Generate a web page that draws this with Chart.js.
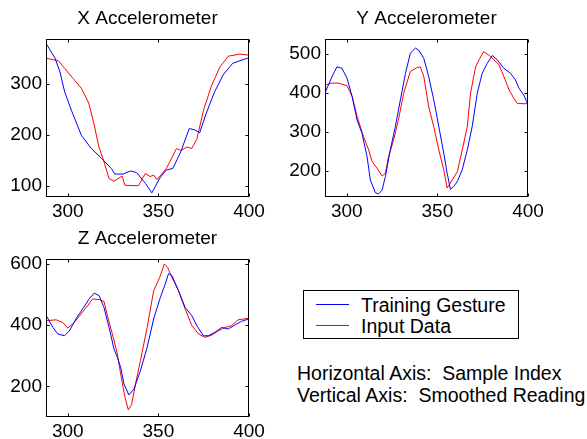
<!DOCTYPE html>
<html>
<head>
<meta charset="utf-8">
<script src="https://cdn.jsdelivr.net/npm/chart.js"></script>
<style>
  body { margin: 0; background: #fff; width: 587px; height: 439px; overflow: hidden; position: relative;
         font-family: "Liberation Sans", Arial, sans-serif; color: #000; }
  canvas { position: absolute; }
  .legend { position: absolute; left: 303px; top: 290px; width: 214px; height: 47px; border: 1px solid #000; }
  .legend .ln { position: absolute; left: 12px; width: 33px; height: 1px; }
  .legend .tx { position: absolute; left: 57px; font-size: 19.5px; line-height: 22px; white-space: pre; }
  .note { position: absolute; left: 297px; font-size: 19.5px; line-height: 22px; white-space: pre; }
</style>
</head>
<body>
<canvas id="accX" width="269" height="225" style="left:0;top:0"></canvas>
<canvas id="accY" width="278" height="225" style="left:270px;top:0"></canvas>
<canvas id="accZ" width="269" height="225" style="left:0;top:220px"></canvas>

<div class="legend">
  <div class="ln" style="top:13px;background:#0000ff"></div>
  <div class="tx" style="top:3px">Training Gesture</div>
  <div class="ln" style="top:34px;background:#ff0000"></div>
  <div class="tx" style="top:24px">Input Data</div>
</div>
<div class="note" style="top:362px">Horizontal Axis:  Sample Index</div>
<div class="note" style="top:384px">Vertical Axis:  Smoothed Reading</div>

<script>
// sample index range shown on every plot
const idxMin = 288
const idxMax = 400
const idxTicks = [300, 350, 400]

// X accelerometer
const xTrainIdx = [288, 293, 295.7, 298.3, 302, 307.5, 313, 318.6, 324, 326, 330.6, 334.5, 338, 342.8, 346.4, 350.8, 354.4, 358, 362.4, 367, 369.7, 372.8, 376.4, 381, 385.7, 391, 395, 400]
const xTrainVal = [379, 350, 323, 284, 248, 199, 173, 154, 134, 123, 123, 129, 126, 105, 86, 115, 131, 134, 167, 212, 210, 204, 242, 284, 317, 340, 345, 351]
const xInputIdx = [288, 294.8, 298.3, 303, 307.5, 311.6, 314.4, 317.2, 320, 322.8, 325.5, 330, 331.5, 339, 342.8, 345.5, 347.4, 349.2, 354.4, 360, 362.4, 365.7, 368.4, 371.2, 374.9, 379.4, 384, 388.6, 395, 400]
const xInputVal = [350, 345, 330, 310, 291, 262, 222, 176, 147, 114, 109, 119, 101, 100, 124, 118, 121, 112, 134, 173, 169, 176, 173, 191, 248, 297, 333, 354, 358, 356]
const xTicks = [100, 200, 300]

// Y accelerometer
const yTrainIdx = [288, 291.9, 294.6, 297.4, 300.2, 303, 305.7, 308.4, 311.2, 313, 315.8, 317.6, 319.5, 321.3, 324, 326.8, 329.6, 332.4, 335.1, 337.9, 339.7, 342.5, 345.2, 348, 350.8, 353.5, 355.4, 357.2, 359, 361, 363.7, 366.5, 369.2, 372, 374.7, 377.5, 380.3, 383, 386.7, 390.4, 393.1, 395, 397.7, 400]
const yTrainVal = [400, 442, 467, 463, 437, 390, 330, 296, 236, 176, 143, 140, 150, 184, 253, 313, 382, 450, 502, 515, 510, 489, 442, 382, 313, 245, 193, 152, 159, 172, 202, 253, 313, 399, 450, 476, 496, 485, 463, 450, 433, 412, 394, 369]
const yInputIdx = [288, 291.9, 295.5, 300.2, 303, 305.7, 309.3, 312.1, 314, 316.7, 319.5, 321.3, 323.1, 325.9, 328.7, 331.4, 335.1, 338.8, 340.6, 342.5, 345.2, 348, 350.8, 353.5, 355.4, 358.2, 361, 363.7, 366.5, 368.3, 371.1, 373, 375.6, 378.4, 381.2, 384, 386.7, 389.5, 392.2, 394, 397.7, 400]
const yInputVal = [420, 425, 425, 418, 390, 339, 287, 253, 223, 206, 186, 193, 236, 279, 335, 399, 455, 465, 467, 442, 364, 313, 253, 202, 155, 176, 197, 253, 313, 399, 467, 485, 506, 497, 485, 472, 442, 408, 386, 373, 372, 372]
const yTicks = [200, 300, 400, 500]

// Z accelerometer
const zTrainIdx = [288, 291.8, 294.5, 298.1, 300.9, 304.5, 308.2, 311.8, 314.6, 317.3, 320, 322.8, 325.5, 327.4, 329.2, 331, 333.7, 336.5, 340.1, 343.8, 347.4, 351.1, 353.8, 355.6, 357.5, 361.1, 364.8, 368.5, 371.2, 374.8, 377.5, 381.2, 384.9, 388.5, 392.2, 395.8, 400]
const zTrainVal = [432, 392, 371, 365, 381, 420, 452, 485, 504, 496, 457, 392, 322, 294, 262, 208, 172, 191, 251, 327, 420, 490, 534, 568, 561, 512, 457, 430, 398, 365, 365, 376, 392, 387, 400, 412, 420]
const zInputIdx = [288, 293.6, 297.3, 300, 303.6, 307.3, 311, 313.7, 317.3, 320, 321.9, 324.6, 327.4, 329.2, 331.4, 333.4, 335.2, 337.4, 340.1, 343.8, 347.4, 350.7, 353.3, 355.1, 357.5, 361.1, 364.8, 368.5, 372.1, 375.7, 379.4, 383, 386.7, 390.4, 394, 400]
const zInputVal = [414, 417, 408, 390, 408, 436, 463, 485, 483, 477, 430, 371, 305, 240, 169, 123, 140, 208, 284, 392, 512, 555, 599, 588, 555, 512, 452, 398, 371, 360, 367, 381, 392, 398, 417, 422]
const zTicks = [200, 400, 600]

Chart.defaults.font.family = '"Liberation Sans", Arial, sans-serif'
Chart.defaults.font.size = 19
Chart.defaults.color = '#000'

const toPoints = (idx, val) => idx.map((x, i) => ({ x: x, y: val[i] }))

// matlab style box with ticks pointing inward on all four sides
const boxTicks = {
    id: 'boxTicks',
    afterDraw(chart) {
        const { ctx, chartArea: a, scales: { x, y } } = chart
        const l = Math.round(a.left) + 0.5, r = Math.round(a.right) - 0.5
        const t = Math.round(a.top) + 0.5, b = Math.round(a.bottom) - 0.5
        const len = 3
        ctx.save()
        ctx.strokeStyle = '#000'
        ctx.lineWidth = 1
        ctx.strokeRect(l, t, r - l, b - t)
        ctx.beginPath()
        x.ticks.forEach(tk => {
            const px = Math.round(x.getPixelForValue(tk.value)) + 0.5
            ctx.moveTo(px, b); ctx.lineTo(px, b - len)
            ctx.moveTo(px, t); ctx.lineTo(px, t + len)
        })
        y.ticks.forEach(tk => {
            const py = Math.round(y.getPixelForValue(tk.value)) + 0.5
            ctx.moveTo(l, py); ctx.lineTo(l + len, py)
            ctx.moveTo(r, py); ctx.lineTo(r - len, py)
        })
        ctx.stroke()
        ctx.restore()
    }
}

const makePlot = (id, title, trainIdx, trainVal, inputIdx, inputVal, yMin, yMax, ticks, axisW) => {
    return new Chart(document.getElementById(id), {
        type: 'line',
        data: {
            datasets: [{
                label: 'Training Gesture',
                data: toPoints(trainIdx, trainVal),
                borderColor: '#0000ff',
                borderWidth: 1,
                pointRadius: 0,
                tension: 0
            }, {
                label: 'Input Data',
                data: toPoints(inputIdx, inputVal),
                borderColor: '#ff0000',
                borderWidth: 1,
                pointRadius: 0,
                tension: 0
            }]
        },
        options: {
            responsive: false,
            animation: false,
            events: [],
            // right padding is wider than half of the last tick label so it stays fixed
            layout: { padding: { left: 0, right: 20, top: 0, bottom: 6 } },
            plugins: {
                legend: { display: false },
                tooltip: { enabled: false },
                title: {
                    display: true,
                    text: title,
                    fullSize: false,
                    font: { size: 19, weight: 'normal' },
                    padding: { top: 7, bottom: 9 }
                }
            },
            scales: {
                x: {
                    type: 'linear',
                    min: idxMin,
                    max: idxMax,
                    afterBuildTicks: s => { s.ticks = idxTicks.map(v => ({ value: v })) },
                    afterFit: s => { s.height = 22 },
                    grid: { display: false, drawTicks: false },
                    border: { display: false },
                    ticks: { padding: 3, maxRotation: 0 }
                },
                y: {
                    min: yMin,
                    max: yMax,
                    afterBuildTicks: s => { s.ticks = ticks.map(v => ({ value: v })) },
                    afterFit: s => { s.width = axisW },
                    grid: { display: false, drawTicks: false },
                    border: { display: false },
                    ticks: { padding: 4 }
                }
            }
        },
        plugins: [boxTicks]
    })
}

makePlot('accX', 'X Accelerometer', xTrainIdx, xTrainVal, xInputIdx, xInputVal, 78, 388, xTicks, 46)
makePlot('accY', 'Y Accelerometer', yTrainIdx, yTrainVal, yInputIdx, yInputVal, 132, 539, yTicks, 55)
makePlot('accZ', 'Z Accelerometer', zTrainIdx, zTrainVal, zInputIdx, zInputVal, 100, 616, zTicks, 46)
</script>
</body>
</html>
